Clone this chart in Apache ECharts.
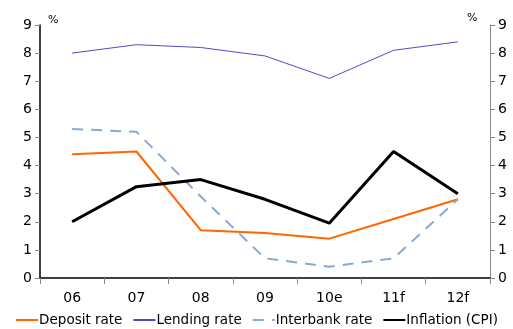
<!DOCTYPE html>
<html>
<head>
<meta charset="utf-8">
<script src="https://cdn.jsdelivr.net/npm/echarts@6/dist/echarts.min.js"></script>
<style>
  html, body { margin: 0; padding: 0; background: #fff; }
  #chart { width: 513px; height: 329px; }
</style>
</head>
<body>
<div id="chart"></div>
<script>
// Years (e = estimate, f = forecast)
const categories = ['06', '07', '08', '09', '10e', '11f', '12f'];
const yTicks = [0, 1, 2, 3, 4, 5, 6, 7, 8, 9];

// Rates in %
const depositRate   = [4.4, 4.5, 1.7, 1.6, 1.4, 2.1, 2.8];
const lendingRate   = [8.0, 8.3, 8.2, 7.9, 7.1, 8.1, 8.4];
const interbankRate = [5.3, 5.2, 2.9, 0.7, 0.4, 0.7, 2.8];
const inflationCPI  = [2.0, 3.25, 3.5, 2.8, 1.95, 4.5, 3.0];

const FONT = 'DejaVu Sans';
const chart = echarts.init(document.getElementById('chart'));

const yAxisBase = {
  type: 'value',
  min: yTicks[0],
  max: yTicks[yTicks.length - 1],
  interval: 1,
  splitLine: { show: false },
  axisTick: { show: true, length: 5, lineStyle: { color: '#888', width: 1 } },
  axisLabel: { color: '#000', fontFamily: FONT, fontSize: 14, margin: 8 }
};

chart.setOption({
  animation: false,
  textStyle: { fontFamily: FONT },
  grid: { left: 40, right: 23, top: 25, bottom: 51, containLabel: false },
  legend: {
    top: 308,
    left: 'center',
    itemWidth: 22,
    itemHeight: 10,
    itemGap: 10,
    itemStyle: { opacity: 0 },
    textStyle: { fontFamily: FONT, fontSize: 13.5, color: '#000', padding: [0, 0, 0, -4] },
    data: ['Deposit rate', 'Lending rate', 'Interbank rate', 'Inflation (CPI)']
  },
  graphic: [
    { type: 'text', left: 48, top: 15, style: { text: '%', fontFamily: FONT, fontSize: 11, fill: '#000' } },
    { type: 'text', left: 467, top: 13, style: { text: '%', fontFamily: FONT, fontSize: 11, fill: '#000' } }
  ],
  xAxis: {
    type: 'category',
    data: categories,
    boundaryGap: true,
    axisLine: { lineStyle: { color: '#000', width: 1.5 } },
    axisTick: { show: true, length: 6, lineStyle: { color: '#888' } },
    axisLabel: { color: '#000', fontFamily: FONT, fontSize: 14, margin: 13 }
  },
  yAxis: [
    Object.assign({}, yAxisBase, {
      position: 'left',
      axisLine: { show: true, lineStyle: { color: '#000', width: 1.5 } }
    }),
    Object.assign({}, yAxisBase, {
      position: 'right',
      axisLine: { show: true, lineStyle: { color: '#888', width: 1 } }
    })
  ],
  series: [
    {
      name: 'Deposit rate', type: 'line', data: depositRate,
      symbol: 'none', color: '#FF6600',
      lineStyle: { color: '#FF6600', width: 2 }
    },
    {
      name: 'Lending rate', type: 'line', data: lendingRate,
      symbol: 'none', color: '#4B4BC8',
      lineStyle: { color: '#4B4BC8', width: 1 }
    },
    {
      name: 'Interbank rate', type: 'line', data: interbankRate,
      symbol: 'none', color: '#89A9D3',
      lineStyle: { color: '#89A9D3', width: 2, type: [11, 8] }
    },
    {
      name: 'Inflation (CPI)', type: 'line', data: inflationCPI,
      symbol: 'none', color: '#000',
      lineStyle: { color: '#000', width: 3 }
    }
  ]
});
</script>
</body>
</html>
